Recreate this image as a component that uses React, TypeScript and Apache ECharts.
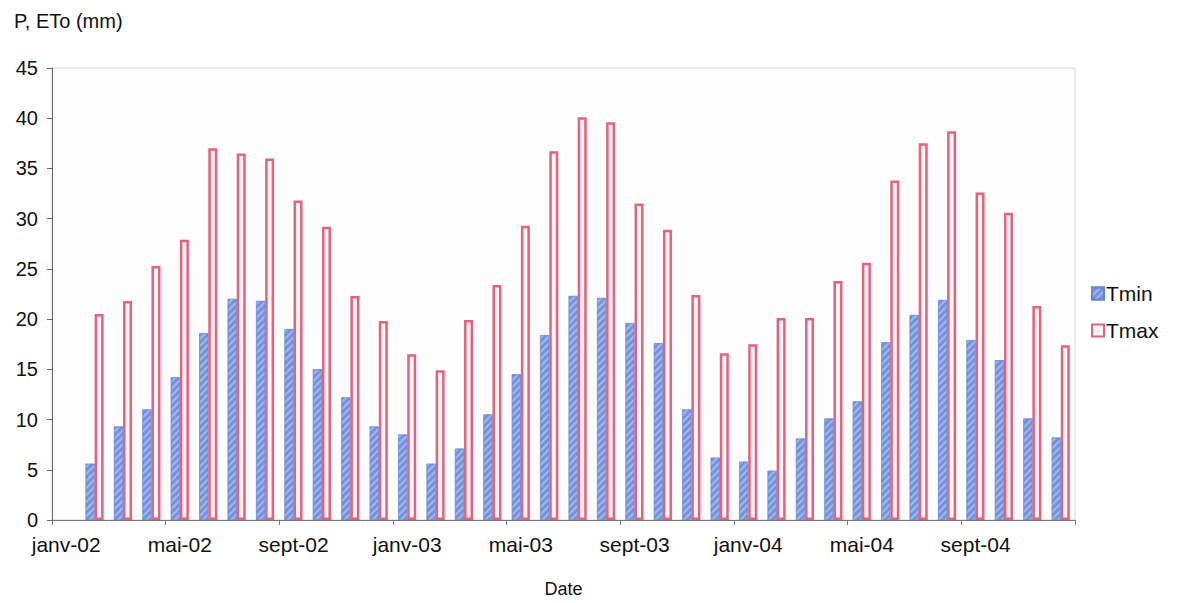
import React, { useEffect, useRef } from "react";
import * as echarts from "echarts";

const months = ["janv", "févr", "mars", "avr", "mai", "juin", "juil", "août", "sept", "oct", "nov", "déc"];
const years = ["02", "03", "04"];
const categories: string[] = years.flatMap((y) => months.map((m) => `${m}-${y}`));

const tmin: (number | null)[] = [
  null, 5.6, 9.3, 11.0, 14.2, 18.6, 22.0, 21.8, 19.0, 15.0, 12.2, 9.3,
  8.5, 5.6, 7.1, 10.5, 14.5, 18.4, 22.3, 22.1, 19.6, 17.6, 11.0, 6.2,
  5.8, 4.9, 8.1, 10.1, 11.8, 17.7, 20.4, 21.9, 17.9, 15.9, 10.1, 8.2,
];

const tmax: (number | null)[] = [
  null, 20.5, 21.8, 25.3, 27.9, 37.0, 36.5, 36.0, 31.8, 29.2, 22.3, 19.8,
  16.5, 14.9, 19.9, 23.4, 29.3, 36.7, 40.1, 39.6, 31.5, 28.9, 22.4, 16.6,
  17.5, 20.1, 20.1, 23.8, 25.6, 33.8, 37.5, 38.7, 32.6, 30.6, 21.3, 17.4,
];

const seriesNames = ["Tmin", "Tmax"];
const yTitle = "P, ETo (mm)";
const xTitle = "Date";

export default function App() {
  const ref = useRef<HTMLDivElement>(null);
  useEffect(() => {
    if (!ref.current) return;
    const chart = echarts.init(ref.current, undefined, { renderer: "svg" });
    const font = "Liberation Sans, Arial, sans-serif";
    chart.setOption({
      animation: false,
      backgroundColor: "#ffffff",
      textStyle: { fontFamily: font },
      title: {
        text: yTitle,
        left: 9,
        top: 6,
        textStyle: { fontFamily: font, fontSize: 20, fontWeight: "normal", color: "#111" },
      },
      legend: {
        orient: "vertical",
        left: 1086,
        top: 278,
        icon: "rect",
        itemWidth: 12,
        itemHeight: 12,
        itemGap: 16,
        textStyle: { fontFamily: font, fontSize: 21, color: "#111", padding: [0, 0, 0, -3] },
        data: seriesNames,
      },
      grid: {
        left: 52,
        top: 68,
        width: 1023,
        height: 457,
        show: true,
        backgroundColor: "#fcfcfc",
        borderColor: "#d6d6d6",
        borderWidth: 1,
      },
      xAxis: {
        type: "category",
        data: categories,
        boundaryGap: true,
        name: xTitle,
        nameLocation: "middle",
        nameGap: 60,
        nameTextStyle: { fontFamily: font, fontSize: 18, color: "#111" },
        axisLine: { show: true, lineStyle: { color: "#777", width: 1 } },
        axisTick: { show: true, interval: 3, length: 5, lineStyle: { color: "#777" } },
        axisLabel: { interval: 3, margin: 14, fontFamily: font, fontSize: 21, color: "#111" },
        splitLine: { show: false },
      },
      yAxis: {
        type: "value",
        min: 0,
        max: 45,
        interval: 5,
        axisLine: { show: true, lineStyle: { color: "#666", width: 1 } },
        axisTick: { show: true, length: 5, lineStyle: { color: "#666" } },
        axisLabel: { margin: 14, fontFamily: font, fontSize: 20, color: "#111" },
        splitLine: { show: false },
      },
      series: [
        {
          name: seriesNames[0],
          type: "bar",
          data: tmin,
          barWidth: 9,
          barGap: "0%",
          itemStyle: {
            color: "#7394dd",
            borderColor: "#6384d6",
            borderWidth: 0.5,
            decal: {
              symbol: "rect",
              symbolSize: 1,
              dashArrayX: [1, 0],
              dashArrayY: [2, 3],
              rotation: -Math.PI / 4,
              color: "rgba(200,210,245,0.55)",
            },
          },
        },
        {
          name: seriesNames[1],
          type: "bar",
          data: tmax,
          barWidth: 9,
          itemStyle: {
            color: "#fff3f5",
            borderColor: "#e2637e",
            borderWidth: 2.5,
          },
        },
      ],
    });
    return () => chart.dispose();
  }, []);
  return (
    <div
      ref={ref}
      style={{ position: "fixed", left: 0, top: 0, width: 1183, height: 603 }}
    />
  );
}
